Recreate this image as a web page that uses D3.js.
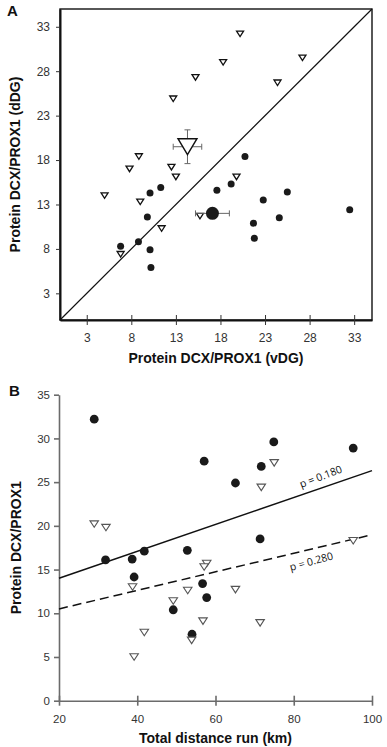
<!DOCTYPE html>
<html>
<head>
<meta charset="utf-8">
<script src="https://cdn.jsdelivr.net/npm/d3@7"></script>
<style>
    body { margin: 0; background: #fff; }
    svg { display: block; font-family: "Liberation Sans", Arial, sans-serif; }
    .tick-label { font-size: 12px; fill: #333; }
    .axis-title { font-size: 14px; font-weight: 700; fill: #111; }
    .panel-letter { font-size: 15px; font-weight: 700; fill: #111; }
    .p-label { font-family: "Open Sans", "DejaVu Sans", sans-serif; font-size: 10.5px; fill: #111; }
</style>
</head>
<body>
<div id="chart"></div>
<script>

// ---- Panel A: vDG (x) vs dDG (y) ----
let aTicks = [3, 8, 13, 18, 23, 28, 33];

let aTriVdg = [20.2, 18.3, 15.2, 27.2, 24.4, 12.7, 8.85, 7.8, 12.5, 13.0, 19.8, 5.0, 9.0, 11.4, 6.8, 15.7];
let aTriDdg = [32.2, 29.0, 27.3, 29.5, 26.7, 24.9, 18.4, 17.0, 17.2, 16.1, 16.1, 14.0, 13.3, 10.3, 7.4, 11.7];

let aCircVdg = [10.1, 11.3, 9.8, 8.8, 6.8, 10.1, 10.2, 17.6, 19.2, 22.8, 25.5, 21.7, 21.8, 24.6, 32.5, 20.75];
let aCircDdg = [14.3, 14.9, 11.6, 8.8, 8.3, 7.9, 5.9, 14.6, 15.3, 13.5, 14.4, 10.9, 9.2, 11.5, 12.4, 18.4];

// group means: [x, y, xErr, yErr]
let aTriMean = [14.3, 19.5, 1.6, 1.9];
let aCircMean = [17.1, 12.0, 1.9, 0.5];

// ---- Panel B: total distance vs protein ----
let bXTicks = [20, 40, 60, 80, 100];
let bYTicks = [0, 5, 10, 15, 20, 25, 30, 35];

let bCircDist = [29.0, 31.9, 38.7, 41.8, 52.8, 39.2, 49.2, 54.0, 57.1, 74.9, 71.7, 65.1, 95.2, 71.4, 56.7, 57.75];
let bCircProt = [32.2, 16.1, 16.2, 17.1, 17.2, 14.15, 10.4, 7.6, 27.4, 29.6, 26.8, 24.9, 28.9, 18.5, 13.4, 11.8];

let bTriDist = [29.0, 32.0, 38.8, 49.2, 52.9, 41.8, 39.2, 53.9, 75.0, 71.7, 95.2, 57.75, 57.1, 65.1, 56.8, 71.4];
let bTriProt = [20.2, 19.8, 13.0, 11.4, 12.6, 7.8, 5.0, 6.9, 27.2, 24.4, 18.3, 15.7, 15.3, 12.7, 9.1, 8.9];

// linear fits: intercept, slope, p label
let fitNames = ["circles", "triangles"];
let fitIntercept = [10.92, 8.38];
let fitSlope = [0.154, 0.106];
let fitP = ["p = 0.180", "p = 0.280"];


let svg = d3.select("#chart").append("svg")
    .attr("width", 387)
    .attr("height", 747);

// down-pointing triangle path
function triPath(w, h) {
    return "M" + (-w / 2) + "," + (-h / 2) + "L" + (w / 2) + "," + (-h / 2) + "L0," + (h / 2) + "Z";
}


function drawPanelA() {
    let vis = {};
    vis.margin = { top: 9, left: 60 };
    vis.width = 312;
    vis.height = 311;

    vis.g = svg.append("g")
        .attr("transform", "translate(" + vis.margin.left + "," + vis.margin.top + ")");

    vis.x = d3.scaleLinear().domain([0, 35]).range([0, vis.width]);
    vis.y = d3.scaleLinear().domain([0, 35]).range([vis.height, 0]);

    // frame
    vis.g.append("rect")
        .attr("width", vis.width)
        .attr("height", vis.height)
        .style("fill", "none")
        .style("stroke", "#111")
        .style("stroke-width", 1.4);

    // axes (ticks crossing the line)
    let xAxis = d3.axisBottom(vis.x).tickValues(aTicks).tickSizeInner(5).tickSizeOuter(0).tickPadding(8);
    let yAxis = d3.axisLeft(vis.y).tickValues(aTicks).tickSizeInner(4).tickSizeOuter(0).tickPadding(6);

    let gx = vis.g.append("g")
        .attr("transform", "translate(0," + vis.height + ")")
        .call(xAxis);
    gx.selectAll(".tick line").attr("y1", -5).style("stroke", "#333");
    gx.select(".domain").style("stroke", "#111").style("stroke-width", 2);

    let gy = vis.g.append("g").call(yAxis);
    gy.selectAll(".tick line").style("stroke", "#333");
    gy.select(".domain").style("stroke", "#111").style("stroke-width", 2);

    vis.g.selectAll(".tick text")
        .attr("class", "tick-label")
        .style("font-size", "12px")
        .style("font-family", "Liberation Sans, Arial, sans-serif");

    // identity line
    vis.g.append("line")
        .attr("x1", vis.x(0)).attr("y1", vis.y(0))
        .attr("x2", vis.x(35)).attr("y2", vis.y(35))
        .style("stroke", "#111")
        .style("stroke-width", 1.2);

    // points
    vis.g.selectAll(".a-circ")
        .data(aCircVdg)
        .enter().append("circle")
        .attr("class", "a-circ")
        .attr("cx", d => vis.x(d))
        .attr("cy", (d, i) => vis.y(aCircDdg[i]))
        .attr("r", 3.5)
        .style("fill", "#1a1a1a");

    vis.g.selectAll(".a-tri")
        .data(aTriVdg)
        .enter().append("path")
        .attr("class", "a-tri")
        .attr("d", triPath(7, 5.5))
        .attr("transform", (d, i) => "translate(" + vis.x(d) + "," + vis.y(aTriDdg[i]) + ")")
        .style("fill", "#fff")
        .style("stroke", "#111")
        .style("stroke-width", 1.3);

    // means with error bars
    function errBars(m) {
        let cx = vis.x(m[0]), cy = vis.y(m[1]);
        let x0 = vis.x(m[0] - m[2]), x1 = vis.x(m[0] + m[2]);
        let y0 = vis.y(m[1] - m[3]), y1 = vis.y(m[1] + m[3]);
        let segs = [
            [x0, cy, x1, cy], [x0, cy - 3, x0, cy + 3], [x1, cy - 3, x1, cy + 3],
            [cx, y0, cx, y1], [cx - 3, y0, cx + 3, y0], [cx - 3, y1, cx + 3, y1]
        ];
        vis.g.selectAll(null)
            .data(segs)
            .enter().append("line")
            .attr("x1", d => d[0]).attr("y1", d => d[1])
            .attr("x2", d => d[2]).attr("y2", d => d[3])
            .style("stroke", "#666")
            .style("stroke-width", 1);
    }

    errBars(aTriMean);
    vis.g.append("path")
        .attr("d", triPath(19, 16))
        .attr("transform", "translate(" + vis.x(aTriMean[0]) + "," + vis.y(aTriMean[1]) + ")")
        .style("fill", "#fff")
        .style("stroke", "#111")
        .style("stroke-width", 1.4);

    errBars(aCircMean);
    vis.g.append("circle")
        .attr("cx", vis.x(aCircMean[0]))
        .attr("cy", vis.y(aCircMean[1]))
        .attr("r", 6.5)
        .style("fill", "#1a1a1a");

    // titles
    vis.g.append("text")
        .attr("class", "axis-title")
        .attr("x", vis.width / 2)
        .attr("y", vis.height + 43)
        .style("text-anchor", "middle")
        .text("Protein DCX/PROX1 (vDG)");

    vis.g.append("text")
        .attr("class", "axis-title")
        .attr("transform", "translate(-40," + (vis.height / 2) + ") rotate(-90)")
        .style("text-anchor", "middle")
        .text("Protein DCX/PROX1 (dDG)");

    svg.append("text")
        .attr("class", "panel-letter")
        .attr("x", 7)
        .attr("y", 16)
        .text("A");
}


function drawPanelB() {
    let vis = {};
    vis.margin = { top: 394.7, left: 59 };
    vis.width = 313;
    vis.height = 306;

    vis.g = svg.append("g")
        .attr("transform", "translate(" + vis.margin.left + "," + vis.margin.top + ")");

    vis.x = d3.scaleLinear().domain([20, 100]).range([0, vis.width]);
    vis.y = d3.scaleLinear().domain([0, 35]).range([vis.height, 0]);

    let xAxis = d3.axisBottom(vis.x).tickValues(bXTicks).tickSizeInner(5).tickSizeOuter(0).tickPadding(9);
    let yAxis = d3.axisLeft(vis.y).tickValues(bYTicks).tickSizeInner(5).tickSizeOuter(0).tickPadding(4);

    let gx = vis.g.append("g")
        .attr("transform", "translate(0," + vis.height + ")")
        .call(xAxis);
    gx.selectAll(".tick line").attr("y1", -5);

    let gy = vis.g.append("g").call(yAxis);

    vis.g.selectAll(".domain, .tick line")
        .style("stroke", "#6b6b6b")
        .style("stroke-width", 1.6);
    vis.g.selectAll(".tick text")
        .attr("class", "tick-label")
        .style("font-size", "11.5px")
        .style("font-family", "Liberation Sans, Arial, sans-serif");

    // regression lines
    let labelX = [87.8, 83.8];
    let labelOff = [-11, 12];
    fitNames.forEach(function(name, i) {
        let yAt = x => fitIntercept[i] + fitSlope[i] * x;
        vis.g.append("line")
            .attr("x1", vis.x(20)).attr("y1", vis.y(yAt(20)))
            .attr("x2", vis.x(100)).attr("y2", vis.y(yAt(100)))
            .style("stroke", "#111")
            .style("stroke-width", 1.5)
            .style("stroke-dasharray", i === 1 ? "9,5" : null);

        let rad = Math.atan2(vis.y(yAt(100)) - vis.y(yAt(20)), vis.x(100) - vis.x(20));
        let angle = rad * 180 / Math.PI - 2;
        let lx = vis.x(labelX[i]) - labelOff[i] * Math.sin(rad);
        let ly = vis.y(yAt(labelX[i])) + labelOff[i] * Math.cos(rad);
        vis.g.append("text")
            .attr("class", "p-label")
            .attr("transform", "translate(" + lx + "," + ly + ") rotate(" + angle + ")")
            .attr("dy", "0.35em")
            .style("text-anchor", "middle")
            .text(fitP[i]);
    });

    vis.g.selectAll(".b-circ")
        .data(bCircDist)
        .enter().append("circle")
        .attr("class", "b-circ")
        .attr("cx", d => vis.x(d))
        .attr("cy", (d, i) => vis.y(bCircProt[i]))
        .attr("r", 4.4)
        .style("fill", "#1a1a1a");

    vis.g.selectAll(".b-tri")
        .data(bTriDist)
        .enter().append("path")
        .attr("class", "b-tri")
        .attr("d", triPath(8.5, 6.5))
        .attr("transform", (d, i) => "translate(" + vis.x(d) + "," + vis.y(bTriProt[i]) + ")")
        .style("fill", "#fff")
        .style("stroke", "#555")
        .style("stroke-width", 1.1);

    vis.g.append("text")
        .attr("class", "axis-title")
        .attr("x", vis.width / 2)
        .attr("y", vis.height + 42)
        .style("text-anchor", "middle")
        .text("Total distance run (km)");

    vis.g.append("text")
        .attr("class", "axis-title")
        .attr("transform", "translate(-38," + (vis.height / 2) + ") rotate(-90)")
        .style("text-anchor", "middle")
        .text("Protein DCX/PROX1");

    svg.append("text")
        .attr("class", "panel-letter")
        .attr("x", 9)
        .attr("y", 396)
        .text("B");
}

drawPanelA();
drawPanelB();

</script>
</body>
</html>
